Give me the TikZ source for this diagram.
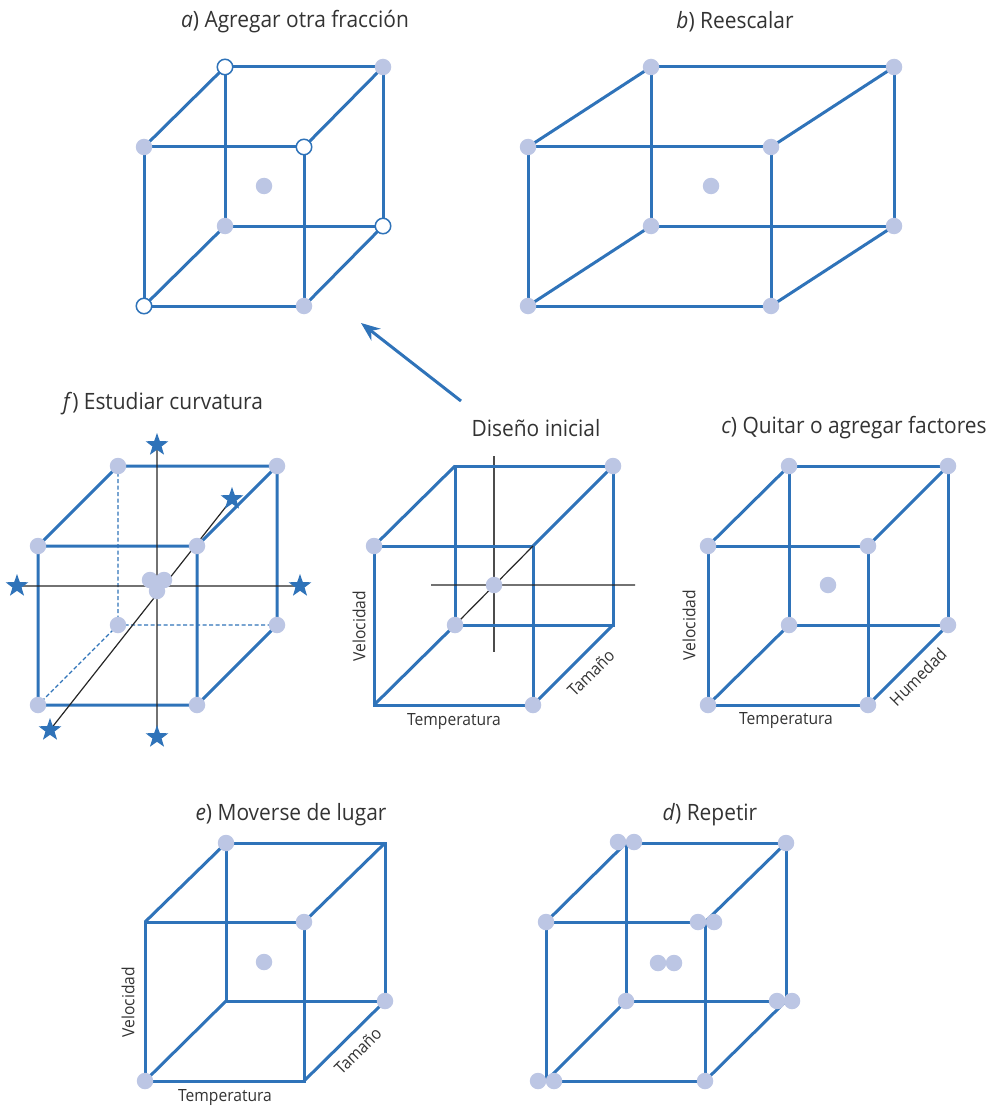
\documentclass[tikz,border=0pt]{standalone}
\usepackage{fontspec}
\setmainfont{Open Sans}[FakeStretch=0.93]
\usetikzlibrary{shapes.geometric,arrows.meta}
\definecolor{cubeblue}{HTML}{2F73B9}
\definecolor{dotfill}{HTML}{BCC6E4}
\definecolor{txt}{HTML}{333333}
\tikzset{
  edge/.style={draw=cubeblue,line width=3pt},
  hidden/.style={draw=cubeblue,line width=1.4pt,dash pattern=on 4pt off 2.5pt},
  axis/.style={draw=black!85,line width=1.2pt},
  dot/.style={circle,fill=dotfill,minimum size=16.5pt,inner sep=0pt,outer sep=0pt},
  opendot/.style={circle,fill=white,draw=cubeblue,line width=1.5pt,minimum size=15.5pt,inner sep=0pt,outer sep=0pt},
  starnode/.style={star,star points=5,star point ratio=2.5,fill=cubeblue,minimum size=24pt,inner sep=0pt,outer sep=0pt},
  title/.style={font=\fontsize{22.5}{26}\selectfont,text=txt,inner sep=0pt},
  axlabel/.style={font=\fontsize{16.8}{20}\selectfont,text=txt,inner sep=0pt},
  pointer/.style={draw=cubeblue,line width=3pt,-{Stealth[length=19pt,width=15pt]}},
}
\newcommand{\corners}[9]{
  \coordinate (#1btl) at (#3,#6);
  \coordinate (#1btr) at (#5,#6);
  \coordinate (#1ftl) at (#2,#7);
  \coordinate (#1ftr) at (#4,#7);
  \coordinate (#1bbl) at (#3,#8);
  \coordinate (#1bbr) at (#5,#8);
  \coordinate (#1fbl) at (#2,#9);
  \coordinate (#1fbr) at (#4,#9);
}
\newcommand{\solidcube}[1]{
  \draw[edge,line join=miter] (#1btl) -- (#1btr) -- (#1bbr) -- (#1bbl) -- cycle;
  \draw[edge,line join=miter] (#1ftl) -- (#1ftr) -- (#1fbr) -- (#1fbl) -- cycle;
  \draw[edge] (#1btl) -- (#1ftl) (#1btr) -- (#1ftr) (#1bbl) -- (#1fbl) (#1bbr) -- (#1fbr);
}
\begin{document}
\begin{tikzpicture}[x=1pt,y=-1pt]
\useasboundingbox (0,0) rectangle (988,1110);

% a
\corners{a}{144}{225}{304}{383}{67}{147}{226}{306}
\solidcube{a}
\node[opendot] (adbtl) at (abtl) {};
\node[dot] (adbtr) at (abtr) {};
\node[dot] (adftl) at (aftl) {};
\node[opendot] (adftr) at (aftr) {};
\node[dot] (adbbl) at (abbl) {};
\node[opendot] (adbbr) at (abbr) {};
\node[opendot] (adfbl) at (afbl) {};
\node[dot] (adfbr) at (afbr) {};
\node[dot] (adc) at (264,186) {};
\node[title] (ta) at (295,22) {\textit{a}) Agregar otra fracción};

% b
\corners{b}{528}{651}{771}{894}{67}{147}{226}{306}
\solidcube{b}
\foreach \k in {btl,btr,ftl,ftr,bbl,bbr,fbl,fbr} \node[dot] (bd\k) at (b\k) {};
\node[dot] (bdc) at (711,186) {};
\node[title] (tb) at (735,22) {\textit{b}) Reescalar};

% f
\corners{f}{38}{118}{197}{277}{466}{546}{625}{705}
\draw[edge] (fbtl) -- (fbtr) -- (fbbr) (ffbl) -- (ffbr) -- (fftr) -- (fftl) -- cycle (fftl) -- (fbtl) (fbtr) -- (fftr) (fbbr) -- (ffbr);
\draw[hidden] (fbtl) -- (fbbl) (fbbl) -- (fbbr) (fbbl) -- (ffbl);
\coordinate (fa1) at (157,445);
\coordinate (fa2) at (157,737);
\coordinate (fa3) at (17,586);
\coordinate (fa4) at (300,586);
\coordinate (fa5) at (50,730);
\coordinate (fa6) at (232,499);
\draw[axis] (fa1) -- (fa2) (fa3) -- (fa4) (fa5) -- (fa6);
\node[starnode] (fs1) at (fa1) {};
\node[starnode] (fs2) at (fa2) {};
\node[starnode] (fs3) at (fa3) {};
\node[starnode] (fs4) at (fa4) {};
\node[starnode] (fs5) at (fa5) {};
\node[starnode] (fs6) at (fa6) {};
\foreach \k in {btl,btr,ftl,ftr,bbl,bbr,fbl,fbr} \node[dot] (fd\k) at (f\k) {};
\node[dot] (fc1) at (150,580) {};
\node[dot] (fc2) at (164,580) {};
\node[dot] (fc3) at (157,591) {};
\node[title] (tf) at (163,404) {\textit{f}) Estudiar curvatura};

% initial design
\corners{i}{374}{455}{533}{613}{466}{546}{625}{705}
\coordinate (iax1) at (494,456);
\coordinate (iax2) at (494,652);
\coordinate (iax3) at (431,585);
\coordinate (iax4) at (635,585);
\draw[axis,draw=black!70] (iax1) -- (iax2);
\solidcube{i}
\draw[axis] (iax3) -- (iax4) (iftr) -- (ibbl);
\node[dot] (idbtr) at (ibtr) {};
\node[dot] (idftl) at (iftl) {};
\node[dot] (idbbl) at (ibbl) {};
\node[dot] (idfbr) at (ifbr) {};
\node[dot] (idc) at (494,585) {};
\node[title] (ti) at (536,428) {Diseño inicial};
\node[axlabel,rotate=90] (iv) at (359,626) {Velocidad};
\node[axlabel] (it) at (454,722) {Temperatura};
\node[axlabel,rotate=45] (is) at (591,673) {Tamaño};

% pointer from initial design to a
\coordinate (ps) at (461,401);
\coordinate (pe) at (361,323);
\draw[pointer] (ps) -- (pe);

% c
\corners{c}{708}{789}{868}{948}{466}{546}{625}{705}
\solidcube{c}
\foreach \k in {btl,btr,ftl,ftr,bbl,bbr,fbl,fbr} \node[dot] (cd\k) at (c\k) {};
\node[dot] (cdc) at (828,585) {};
\node[title] (tc) at (854,428) {\textit{c}) Quitar o agregar factores};
\node[axlabel,rotate=90] (cv) at (689,625) {Velocidad};
\node[axlabel] (ct) at (786,721) {Temperatura};
\node[axlabel,rotate=45] (cs) at (918,677) {Humedad};

% e
\corners{e}{145}{226}{304}{385}{843}{922}{1001}{1081}
\solidcube{e}
\node[dot] (edbtl) at (ebtl) {};
\node[dot] (edftr) at (eftr) {};
\node[dot] (edbbr) at (ebbr) {};
\node[dot] (edfbl) at (efbl) {};
\node[dot] (edc) at (264,962) {};
\node[title] (te) at (291,815) {\textit{e}) Moverse de lugar};
\node[axlabel,rotate=90] (ev) at (128,1002) {Velocidad};
\node[axlabel] (et) at (225,1098) {Temperatura};
\node[axlabel,rotate=45] (es) at (358,1051) {Tamaño};

% d
\corners{d}{546}{626}{705}{786}{843}{922}{1001}{1081}
\solidcube{d}
\node[dot] (dd1) at (618,842) {};
\node[dot] (dd2) at (634,842) {};
\node[dot] (dd3) at (dbtr) {};
\node[dot] (dd4) at (dftl) {};
\node[dot] (dd5) at (698,922) {};
\node[dot] (dd6) at (714,922) {};
\node[dot] (dd7) at (dbbl) {};
\node[dot] (dd8) at (777,1001) {};
\node[dot] (dd9) at (792,1001) {};
\node[dot] (dd10) at (538,1081) {};
\node[dot] (dd11) at (554,1081) {};
\node[dot] (dd12) at (dfbr) {};
\node[dot] (dd13) at (658,963) {};
\node[dot] (dd14) at (674,963) {};
\node[title] (td) at (710,815) {\textit{d}) Repetir};
\end{tikzpicture}
\end{document}
